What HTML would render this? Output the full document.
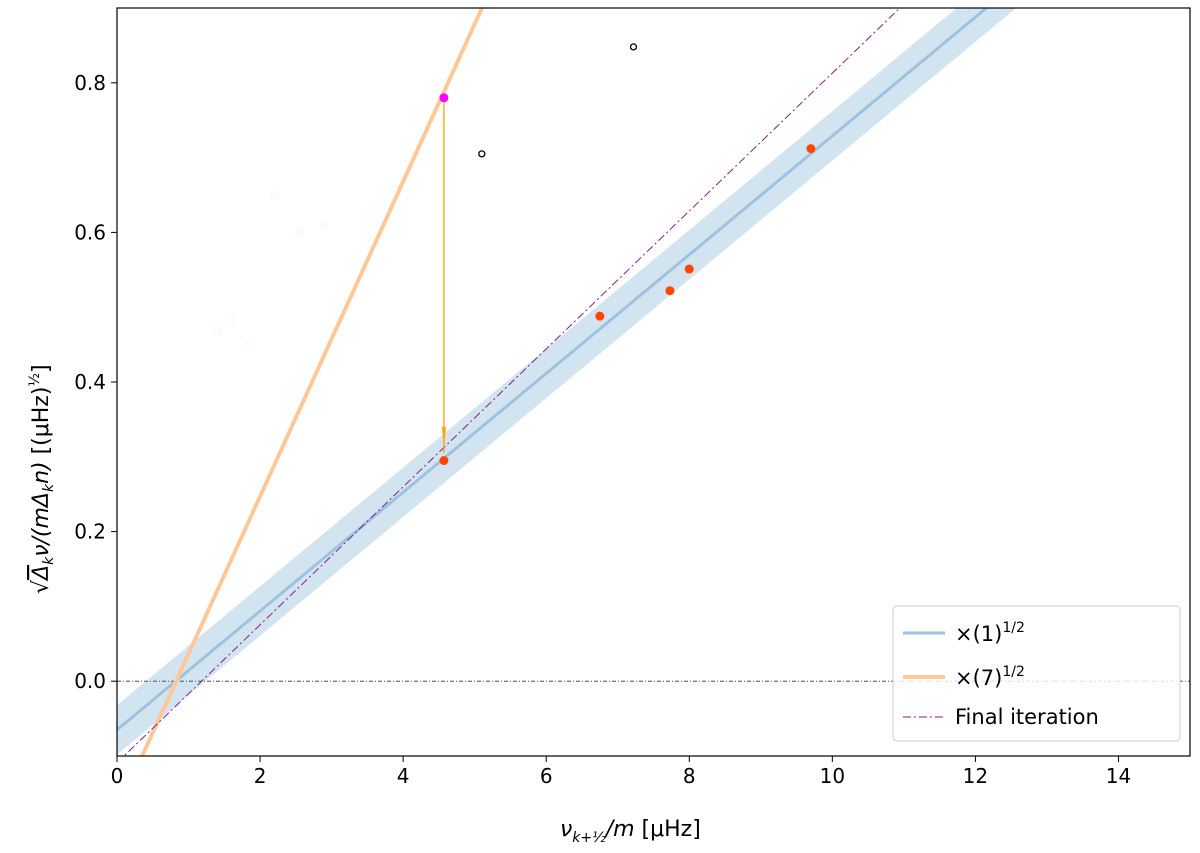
<!DOCTYPE html>
<html><head><meta charset="utf-8"><style>
body{margin:0;background:#fff;}
svg{display:block;font-family:"DejaVu Sans","Liberation Sans",sans-serif;}
</style></head><body>
<svg id="chart" width="1200" height="853"></svg>
<script>
const xTicks=[0,2,4,6,8,10,12,14];
const yTicks=[0.0,0.2,0.4,0.6,0.8];
const redX=[4.57,6.75,7.73,8.0,9.7];
const redY=[0.295,0.488,0.522,0.551,0.712];
const openX=[5.1,7.22];
const openY=[0.705,0.848];
const faintX=[1.4,1.6,1.85,2.2,2.55,2.9];
const faintY=[0.47,0.485,0.45,0.65,0.6,0.61];
const magentaX=[4.57];
const magentaY=[0.78];
const blueFit=[0.0794,-0.065];
const blueBand=[0.033];
const orangeFit=[0.2105,-0.174];
const purpleFit=[0.0922,-0.109];

const L=117,R=1190,T=8,B=756,x0=0,x1=15,y0=-0.1,y1=0.9;
const sx=v=>L+(v-x0)/(x1-x0)*(R-L);
const sy=v=>B-(v-y0)/(y1-y0)*(B-T);
const svg=document.getElementById('chart');
const NS='http://www.w3.org/2000/svg';
function mk(tag,a,p){const e=document.createElementNS(NS,tag);for(const k in a)e.setAttribute(k,a[k]);(p||svg).appendChild(e);return e;}
const defs=mk('defs',{});
const cp=mk('clipPath',{id:'c'},defs);mk('rect',{x:L,y:T,width:R-L,height:B-T},cp);
const g=mk('g',{'clip-path':'url(#c)'});


let e=mk('line',{x1:L,x2:R,y1:sy(0),y2:sy(0),stroke:'#333','stroke-width':0.8,'stroke-dasharray':'4 2 1 2'},g);


e=mk('polygon',{points:[[sx(x0),sy(blueFit[0]*x0+blueFit[1]+blueBand[0])],[sx(x1),sy(blueFit[0]*x1+blueFit[1]+blueBand[0])],[sx(x1),sy(blueFit[0]*x1+blueFit[1]-blueBand[0])],[sx(x0),sy(blueFit[0]*x0+blueFit[1]-blueBand[0])]].map(p=>p.join(',')).join(' '),fill:'#1f77b4','fill-opacity':0.2},g);


function fitLine(f,attrs,name){const l=mk('line',Object.assign({x1:sx(x0),y1:sy(f[0]*x0+f[1]),x2:sx(x1),y2:sy(f[0]*x1+f[1])},attrs),g);}
fitLine(blueFit,{stroke:'#9ec2e0','stroke-width':3},'blue-fit-line');
fitLine(orangeFit,{stroke:'#ffc896','stroke-width':4},'orange-fit-line');
fitLine(purpleFit,{stroke:'#8b1a8b','stroke-width':1,'stroke-dasharray':'8 3 2 3'},'final-iteration-line');
faintX.forEach((v,i)=>{const c=mk('circle',{cx:sx(v),cy:sy(faintY[i]),r:3.5,fill:'none',stroke:'#f5f5f5','stroke-width':1},g);});
e=mk('line',{x1:sx(magentaX[0]),x2:sx(magentaX[0]),y1:sy(magentaY[0]),y2:sy(redY[0]+0.01),stroke:'#ffa500','stroke-width':1.3},g);


e=mk('polygon',{points:`${sx(4.57)-2},${sy(0.34)} ${sx(4.57)+2},${sy(0.34)} ${sx(4.57)},${sy(0.31)}`,fill:'#ffa500'},g);


redX.forEach((v,i)=>{const c=mk('circle',{cx:sx(v),cy:sy(redY[i]),r:4.5,fill:'#ff4500'},g);});
openX.forEach((v,i)=>{const c=mk('circle',{cx:sx(v),cy:sy(openY[i]),r:3,fill:'none',stroke:'#000','stroke-width':1.3},g);});
magentaX.forEach((v,i)=>{const c=mk('circle',{cx:sx(v),cy:sy(magentaY[i]),r:4.5,fill:'#ff00ff'},g);});
e=mk('rect',{x:L,y:T,width:R-L,height:B-T,fill:'none',stroke:'#000','stroke-width':1.2});


xTicks.forEach(v=>{mk('line',{x1:sx(v),x2:sx(v),y1:B,y2:B+6,stroke:'#000'});const t=mk('text',{x:sx(v),y:B+27,'text-anchor':'middle','font-size':20});t.textContent=v;});
yTicks.forEach(v=>{mk('line',{x1:L-6,x2:L,y1:sy(v),y2:sy(v),stroke:'#000'});const t=mk('text',{x:L-11,y:sy(v)+7,'text-anchor':'end','font-size':20});t.textContent=v.toFixed(1);});
</script>
<svg width="1200" height="853" style="position:absolute;left:0;top:0;font-family:'DejaVu Sans','Liberation Sans',sans-serif">
<text x="560" y="836" font-size="22"><tspan font-style="italic">ν</tspan><tspan font-size="14" dy="6" font-style="italic">k+½</tspan><tspan dy="-6" font-style="italic">/m</tspan>  [μHz]</text>
<text transform="translate(48,594) rotate(-90)" font-size="22">√<tspan text-decoration="overline" font-style="italic">Δ</tspan><tspan font-size="14" dy="5" font-style="italic">k</tspan><tspan dy="-5" font-style="italic">ν/(mΔ</tspan><tspan font-size="14" dy="5" font-style="italic">k</tspan><tspan dy="-5" font-style="italic">n)</tspan>   [(μHz)<tspan font-size="14" dy="-9">½</tspan><tspan dy="9">]</tspan></text>
<g>
<rect x="893" y="606" width="287" height="135" rx="4" fill="#fff" fill-opacity="0.8" stroke="#ccc"/>
<line x1="903" x2="945" y1="633" y2="633" stroke="#9ec2e0" stroke-width="3"/>
<text x="955" y="641" font-size="21">×(1)<tspan font-size="14" dy="-9">1/2</tspan></text>
<line x1="903" x2="945" y1="677" y2="677" stroke="#ffc896" stroke-width="4"/>
<text x="955" y="685" font-size="21">×(7)<tspan font-size="14" dy="-9">1/2</tspan></text>
<line x1="903" x2="945" y1="717" y2="717" stroke="#8b1a8b" stroke-width="1" stroke-dasharray="8 3 2 3"/>
<text x="955" y="724" font-size="21">Final iteration</text>
</g>
</svg>
</body></html>
